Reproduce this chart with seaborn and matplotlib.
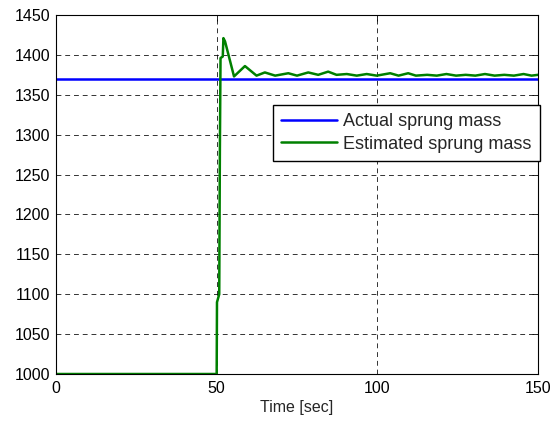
import matplotlib
matplotlib.use("Agg")
import matplotlib.pyplot as plt
import seaborn as sns
import pandas as pd

sns.set_theme(style="white")
plt.rcParams['font.family'] = ['Liberation Sans', 'DejaVu Sans']

# Data
actual_t = [0, 150]
actual_m = [1370, 1370]

est_t = [0, 50.0, 50.1, 50.8, 51.0, 51.2, 51.9, 52.1, 52.6, 55.4, 58.8, 62.4, 65.0, 68.2,
         72.3, 75.0, 78.5, 81.6, 84.7, 87.3, 90.5, 93.6, 96.7, 99.8, 104.0, 106.6, 109.6,
         112.0, 115.5, 118.5, 121.5, 124.5, 127.5, 130.5, 133.5, 136.5, 139.5, 142.5,
         145.5, 148.0, 150.0]
est_m = [1000, 1000, 1090, 1100, 1280, 1396, 1398, 1421, 1417, 1373, 1386, 1374, 1378, 1374,
         1377, 1374, 1378, 1375, 1379, 1375, 1376, 1374, 1376, 1374, 1377, 1374, 1377,
         1374, 1375, 1374, 1376, 1374, 1375, 1374, 1376, 1374, 1375, 1374, 1376, 1374, 1375]

x_ticks = [0, 50, 100, 150]
y_ticks = list(range(1000, 1451, 50))

df_a = pd.DataFrame({"t": actual_t, "m": actual_m})
df_e = pd.DataFrame({"t": est_t, "m": est_m})

fig = plt.figure(figsize=(5.59, 4.25), dpi=100)
ax = fig.add_axes([56/559, 1-374/425, (538-56)/559, (374-15)/425])

sns.lineplot(data=df_a, x="t", y="m", ax=ax, color="#0000ff", lw=1.8,
             label="Actual sprung mass", estimator=None, sort=False)
sns.lineplot(data=df_e, x="t", y="m", ax=ax, color="#008000", lw=1.8,
             label="Estimated sprung mass", estimator=None, sort=False)

ax.set_xlim(0, 150)
ax.set_ylim(1000, 1450)
ax.set_xticks(x_ticks)
ax.set_yticks(y_ticks)
ax.set_xlabel("Time [sec]", fontsize=11.5, labelpad=3)
ax.set_ylabel("")
ax.tick_params(axis="both", direction="in", length=4, width=0.6, labelsize=11.5,
               top=True, right=True, colors="black")
ax.tick_params(axis="x", pad=5)
ax.tick_params(axis="y", pad=4)
ax.grid(True, color="black", linestyle=(0, (5, 4)), linewidth=0.7, alpha=0.8)
for s in ax.spines.values():
    s.set_color("black")
    s.set_linewidth(0.8)
    s.set_visible(True)

leg = ax.legend(loc="upper right", bbox_to_anchor=(1.004, 0.749), fontsize=13,
                frameon=True, fancybox=False, edgecolor="black", framealpha=1,
                borderpad=0.45, handlelength=3.1, labelspacing=0.3, handletextpad=0.35,
                borderaxespad=0)
leg.get_frame().set_linewidth(1.0)

fig.savefig("out.png", dpi=100, facecolor="white")
